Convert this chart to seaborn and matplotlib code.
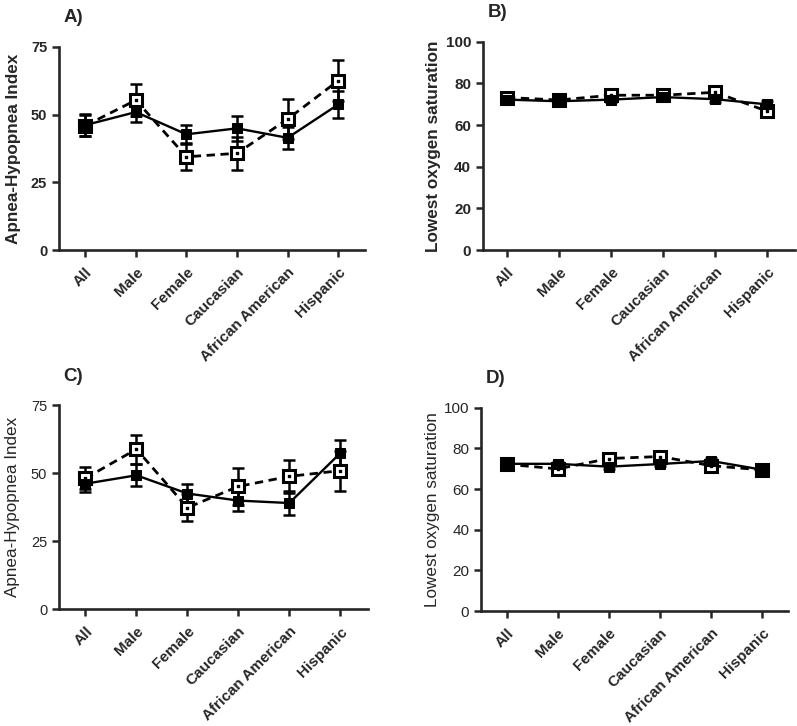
import numpy as np
import pandas as pd
import seaborn as sns
import matplotlib.pyplot as plt

# Categories shared by all four panels.
categories = ["All", "Male", "Female", "Caucasian", "African American", "Hispanic"]

# Panel A - Apnea-Hypopnea Index (solid = filled squares, open = dashed).
a_solid = [46.1, 50.9, 42.7, 44.9, 41.4, 53.7]
a_solid_err = [4.0, 3.5, 3.5, 4.5, 4.0, 5.0]
a_open = [45.9, 55.3, 34.4, 35.7, 48.3, 62.5]
a_open_err = [4.0, 6.0, 5.0, 6.0, 7.5, 7.5]

# Panel B - Lowest oxygen saturation.
b_solid = [72.2, 71.4, 72.2, 73.4, 72.4, 69.9]
b_solid_err = [1.2, 1.0, 1.2, 1.0, 1.3, 1.5]
b_open = [73.2, 72.0, 74.3, 74.3, 75.7, 66.6]
b_open_err = [1.2, 1.2, 1.5, 1.2, 1.6, 2.7]

# Panel C - Apnea-Hypopnea Index.
c_solid = [46.1, 49.2, 42.5, 39.9, 39.0, 57.3]
c_solid_err = [3.0, 4.0, 3.5, 4.0, 4.5, 5.0]
c_open = [48.1, 58.8, 37.3, 45.1, 48.8, 50.9]
c_open_err = [4.0, 5.3, 5.0, 6.7, 6.0, 7.3]

# Panel D - Lowest oxygen saturation.
d_solid = [72.4, 72.4, 71.0, 72.3, 73.8, 69.5]
d_solid_err = [1.0, 1.0, 1.2, 1.2, 1.3, 1.5]
d_open = [72.2, 69.9, 75.0, 76.0, 71.5, 69.4]
d_open_err = [1.2, 1.5, 1.6, 1.5, 1.4, 1.5]

ahi_ticks = [0, 25, 50, 75]
sat_ticks = [0, 20, 40, 60, 80, 100]

sns.set_style("ticks")
plt.rcParams["font.family"] = ["Liberation Sans", "DejaVu Sans"]

fig = plt.figure(figsize=(7.97, 7.26), dpi=100)

# rect, label, ylabel, ticks, data, xlim, label x, y-text weight, tick size
panels = [
    ([0.074, 0.6556, 0.384, 0.280], "A)", "Apnea-Hypopnea Index", ahi_ticks,
     a_solid, a_solid_err, a_open, a_open_err, (-0.52, 5.53), -0.125, "bold", 10.5),
    ([0.606, 0.6556, 0.392, 0.287], "B)", "Lowest oxygen saturation", sat_ticks,
     b_solid, b_solid_err, b_open, b_open_err, (-0.46, 5.54), -0.135, "bold", 11),
    ([0.074, 0.161, 0.388, 0.281], "C)", "Apnea-Hypopnea Index", ahi_ticks,
     c_solid, c_solid_err, c_open, c_open_err, (-0.52, 5.55), -0.125, "normal", 10.5),
    ([0.6035, 0.1584, 0.385, 0.280], "D)", "Lowest oxygen saturation", sat_ticks,
     d_solid, d_solid_err, d_open, d_open_err, (-0.50, 5.50), -0.135, "normal", 11),
]

for (rect, label, ylabel, ticks, solid, solid_err, opn, opn_err, xlim,
     lab_x, yweight, ysize) in panels:
    ax = fig.add_axes(rect)
    df = pd.DataFrame({"cat": categories, "solid": solid, "open": opn})

    # Error bars first so markers sit on top.
    ax.errorbar(categories, solid, yerr=solid_err, fmt="none", ecolor="black",
                elinewidth=1.8, capsize=4, capthick=1.8, zorder=2)
    ax.errorbar(categories, opn, yerr=opn_err, fmt="none", ecolor="black",
                elinewidth=1.8, capsize=4, capthick=1.8, zorder=2)

    sns.lineplot(data=df, x="cat", y="open", ax=ax, color="black",
                 linewidth=2, linestyle=(0, (3, 2)), marker="s",
                 markersize=9, markerfacecolor="white",
                 markeredgecolor="black", markeredgewidth=2.2, zorder=3)
    sns.lineplot(data=df, x="cat", y="solid", ax=ax, color="black",
                 linewidth=1.7, marker="s", markersize=7.5,
                 markerfacecolor="black", markeredgecolor="black", zorder=4)
    # small dot inside the open squares
    ax.scatter(categories, opn, marker="s", s=3, color="black", zorder=5)

    sns.despine(ax=ax)
    for sp in ["left", "bottom"]:
        ax.spines[sp].set_linewidth(1.9)
    ax.set_xlim(*xlim)
    ax.set_ylim(ticks[0], ticks[-1])
    ax.set_yticks(ticks)
    ax.tick_params(axis="both", width=1.8, length=5, direction="out")
    ax.tick_params(axis="y", labelsize=ysize)
    ax.tick_params(axis="x", labelsize=11, pad=6)
    ax.set_xticks(range(len(categories)))
    ax.set_xticklabels(categories, rotation=45, ha="right",
                       rotation_mode="anchor", fontweight="bold")
    for t in ax.get_yticklabels():
        t.set_fontweight(yweight)
    ax.set_xlabel("")
    ax.set_ylabel(ylabel, fontsize=12.3, fontweight=yweight)
    ax.yaxis.set_label_coords(lab_x, 0.5)
    ax.text(0.015, 1.10, label, transform=ax.transAxes, fontsize=13.5,
            fontweight="bold", ha="left", va="bottom")

fig.savefig("out.png", dpi=100)
